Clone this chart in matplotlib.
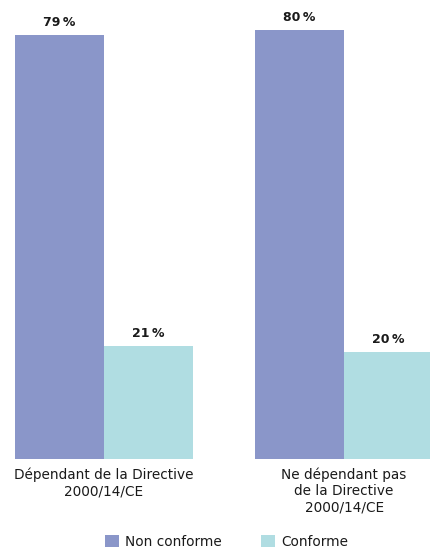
import matplotlib.pyplot as plt
import numpy as np

plt.rcParams["font.family"] = ["DejaVu Sans"]

categories = ["Dépendant de la Directive\n2000/14/CE", "Ne dépendant pas\nde la Directive\n2000/14/CE"]
non_conforme = [79, 80]
conforme = [21, 20]
series_names = ["Non conforme", "Conforme"]

col_nc = "#8a96c9"
col_c = "#b0dde2"
txt = "#1a1a1a"

fig = plt.figure(figsize=(4.30, 5.56), dpi=100)
ax = fig.add_axes([15 / 430, 97 / 556, 415 / 430, 459 / 556])

x = np.arange(len(categories))
w = 0.37
b1 = ax.bar(x - w / 2, non_conforme, w, color=col_nc, label=series_names[0])
b2 = ax.bar(x + w / 2, conforme, w, color=col_c, label=series_names[1])

for bars, vals in [(b1, non_conforme), (b2, conforme)]:
    for rect, v in zip(bars, vals):
        ax.annotate(f"{v}\u2009%", (rect.get_x() + rect.get_width() / 2, rect.get_height()),
                    xytext=(0, 4.5), textcoords="offset points", ha="center", va="bottom",
                    fontsize=9, fontweight="bold", color=txt)

ax.set_xlim(-0.371, 1.358)
ax.set_ylim(0, 85.6)
ax.axis("off")

for xi, lab in zip(x, categories):
    ax.text(xi, -1.6, lab, ha="center", va="top", fontsize=9.8, color=txt,
            linespacing=1.2)

fig.legend(handles=[b1, b2], loc="center", bbox_to_anchor=(0.527, 14 / 556), ncol=2,
           frameon=False, fontsize=9.8, handlelength=1.0, handleheight=1.0,
           handletextpad=0.45, columnspacing=2.9, labelcolor=txt,
           borderaxespad=0, borderpad=0)

fig.savefig("out.png", dpi=100)
